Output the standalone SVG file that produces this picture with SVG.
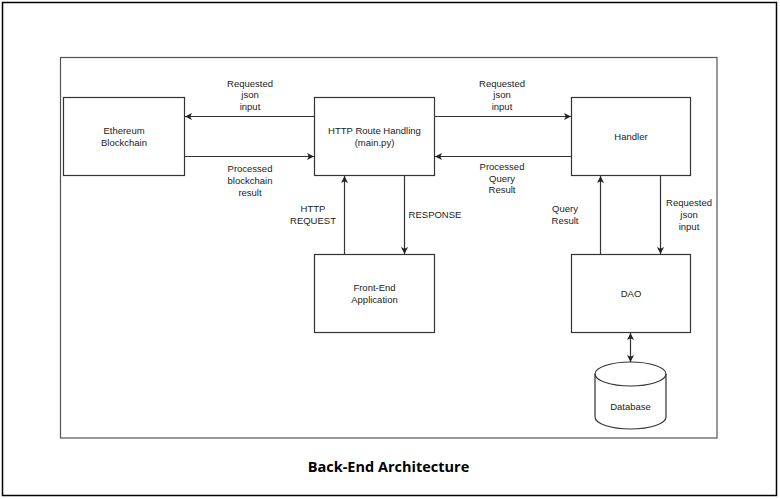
<svg xmlns="http://www.w3.org/2000/svg" width="780" height="499" viewBox="0 0 780 499">
<defs>
<marker id="arr" viewBox="0 0 10 10" refX="10" refY="5" markerWidth="7" markerHeight="7" markerUnits="userSpaceOnUse" orient="auto-start-reverse">
<path d="M0,0 L10,5 L0,10 L2.5,5 Z" fill="#222"/>
</marker>
<style>
.box{fill:#fff;stroke:#333;stroke-width:1.2}
.t{font-family:"Liberation Sans",Arial,sans-serif;font-size:9.5px;fill:#222;text-anchor:middle}
.c{fill:none;stroke:#333;stroke-width:1.2}
</style>
</defs>
<rect x="0" y="0" width="780" height="499" fill="#fff"/>
<rect x="2.5" y="2.5" width="774" height="493" fill="none" stroke="#000" stroke-width="1.5"/>
<rect x="60.5" y="57.5" width="656.5" height="380.5" fill="none" stroke="#555" stroke-width="1.2"/>

<g id="ethereum">
<rect class="box" x="63.5" y="97.5" width="121" height="78"/>
<text class="t" x="124" y="133.5">Ethereum</text>
<text class="t" x="124" y="145.5">Blockchain</text>
</g>
<g id="http">
<rect class="box" x="314.5" y="97.5" width="120" height="78"/>
<text class="t" x="374.5" y="133.5">HTTP Route Handling</text>
<text class="t" x="374.5" y="145.5">(main.py)</text>
</g>
<g id="handler">
<rect class="box" x="571.5" y="97.5" width="119" height="78"/>
<text class="t" x="631" y="139.5">Handler</text>
</g>
<g id="frontend">
<rect class="box" x="314.5" y="254.5" width="120" height="78"/>
<text class="t" x="374.5" y="290.5">Front-End</text>
<text class="t" x="374.5" y="302.5">Application</text>
</g>
<g id="dao">
<rect class="box" x="571.5" y="254.5" width="119" height="78"/>
<text class="t" x="631" y="296.5">DAO</text>
</g>
<g id="database">
<path class="box" d="M595,374 A35.5,12 0 0 1 666,374 L666,417 A35.5,12 0 0 1 595,417 Z"/>
<path d="M595,374 A35.5,12 0 0 0 666,374" fill="none" stroke="#333" stroke-width="1.2"/>
<text class="t" x="630.5" y="409.5">Database</text>
</g>

<g id="connectors">
<line class="c" x1="314.5" y1="116.5" x2="185" y2="116.5" marker-end="url(#arr)"/>
<line class="c" x1="184.5" y1="156.5" x2="314" y2="156.5" marker-end="url(#arr)"/>
<line class="c" x1="434.5" y1="116.5" x2="571" y2="116.5" marker-end="url(#arr)"/>
<line class="c" x1="571.5" y1="156.5" x2="435" y2="156.5" marker-end="url(#arr)"/>
<line class="c" x1="344.5" y1="254.5" x2="344.5" y2="176" marker-end="url(#arr)"/>
<line class="c" x1="404.5" y1="175.5" x2="404.5" y2="254" marker-end="url(#arr)"/>
<line class="c" x1="600.5" y1="254.5" x2="600.5" y2="176" marker-end="url(#arr)"/>
<line class="c" x1="660.5" y1="175.5" x2="660.5" y2="254" marker-end="url(#arr)"/>
<line class="c" x1="630.5" y1="333" x2="630.5" y2="362" marker-start="url(#arr)" marker-end="url(#arr)"/>
</g>

<g id="labels">
<text class="t" x="250" y="86.5">Requested</text>
<text class="t" x="250" y="98">json</text>
<text class="t" x="250" y="109.5">input</text>
<text class="t" x="250" y="172">Processed</text>
<text class="t" x="250" y="184">blockchain</text>
<text class="t" x="250" y="196">result</text>
<text class="t" x="313" y="212">HTTP</text>
<text class="t" x="313" y="224">REQUEST</text>
<text class="t" x="435" y="217.5">RESPONSE</text>
<text class="t" x="502" y="86.5">Requested</text>
<text class="t" x="502" y="98">json</text>
<text class="t" x="502" y="109.5">input</text>
<text class="t" x="502" y="170">Processed</text>
<text class="t" x="502" y="181.5">Query</text>
<text class="t" x="502" y="193">Result</text>
<text class="t" x="565" y="212">Query</text>
<text class="t" x="565" y="223.5">Result</text>
<text class="t" x="689" y="206">Requested</text>
<text class="t" x="689" y="218">json</text>
<text class="t" x="689" y="229.5">input</text>
</g>
<text x="388.5" y="472" font-family="'Open Sans','Liberation Sans',sans-serif" font-weight="bold" font-size="14.5" fill="#000" text-anchor="middle">Back-End Architecture</text>
</svg>
